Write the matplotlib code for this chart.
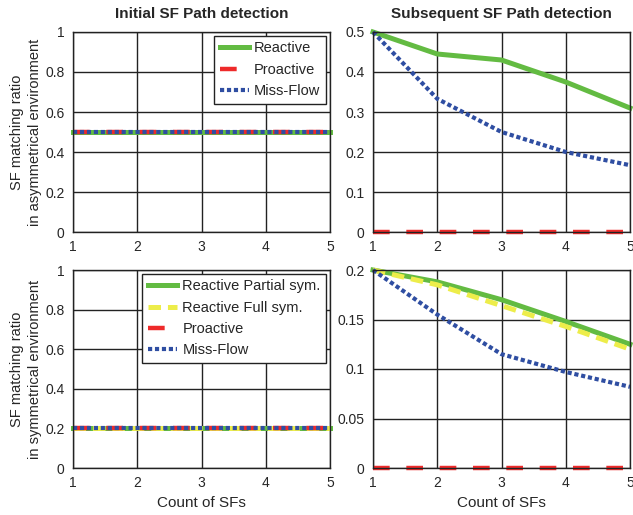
import matplotlib
matplotlib.use("Agg")
import matplotlib.pyplot as plt

plt.rcParams['font.family'] = ['Liberation Sans', 'DejaVu Sans']
plt.rcParams['lines.scale_dashes'] = False

# Count of service functions on the path
sf_count = [1, 2, 3, 4, 5]

# Asymmetrical environment
asym_initial_reactive = [0.5, 0.5, 0.5, 0.5, 0.5]
asym_initial_proactive = [0.5, 0.5, 0.5, 0.5, 0.5]
asym_initial_missflow = [0.5, 0.5, 0.5, 0.5, 0.5]
asym_subseq_reactive = [0.5, 0.445, 0.43, 0.375, 0.31]
asym_subseq_proactive = [0.0, 0.0, 0.0, 0.0, 0.0]
asym_subseq_missflow = [0.5, 0.333, 0.25, 0.2, 0.167]

# Symmetrical environment
sym_initial_partial = [0.2, 0.2, 0.2, 0.2, 0.2]
sym_initial_full = [0.2, 0.2, 0.2, 0.2, 0.2]
sym_initial_proactive = [0.2, 0.2, 0.2, 0.2, 0.2]
sym_initial_missflow = [0.2, 0.2, 0.2, 0.2, 0.2]
sym_subseq_partial = [0.2, 0.188, 0.17, 0.148, 0.125]
sym_subseq_full = [0.2, 0.185, 0.164, 0.143, 0.12]
sym_subseq_proactive = [0.0, 0.0, 0.0, 0.0, 0.0]
sym_subseq_missflow = [0.2, 0.155, 0.115, 0.097, 0.082]

titles = ["Initial SF Path detection", "Subsequent SF Path detection"]
ylabels = ["SF matching ratio\nin asymmetrical environment",
           "SF matching ratio\nin symmetrical environment"]
xlabel = "Count of SFs"

GREEN = '#63bb42'
YELLOW = '#eded4a'
RED = '#ee2a2a'
BLUE = '#2f4ea2'
TXT = '#262626'

W, H = 633, 515
fig = plt.figure(figsize=(W / 100, H / 100), dpi=100)


def box(l, t, r, b):
    return [l / W, 1 - b / H, (r - l) / W, (b - t) / H]


ax_tl = fig.add_axes(box(73, 32, 330, 232))
ax_tr = fig.add_axes(box(373, 32, 630, 232))
ax_bl = fig.add_axes(box(73, 270, 330, 468))
ax_br = fig.add_axes(box(373, 270, 630, 468))

style = dict(
    green=dict(color=GREEN, lw=3.6, ls='-', clip_on=False),
    yellow=dict(color=YELLOW, lw=3.6, ls=(0, (9, 5)), clip_on=False),
    red=dict(color=RED, lw=3.2, ls=(0, (12, 12)), clip_on=False),
    blue=dict(color=BLUE, lw=3.0, ls=(0, (3, 2)), clip_on=False),
)

# Top row
for ax, r, p, m in [(ax_tl, asym_initial_reactive, asym_initial_proactive, asym_initial_missflow),
                    (ax_tr, asym_subseq_reactive, asym_subseq_proactive, asym_subseq_missflow)]:
    ax.plot(sf_count, r, label="Reactive", **style['green'])
    ax.plot(sf_count, p, label="Proactive", **style['red'])
    ax.plot(sf_count, m, label="Miss-Flow", **style['blue'])

# Bottom row
for ax, a, f, p, m in [(ax_bl, sym_initial_partial, sym_initial_full, sym_initial_proactive, sym_initial_missflow),
                       (ax_br, sym_subseq_partial, sym_subseq_full, sym_subseq_proactive, sym_subseq_missflow)]:
    ax.plot(sf_count, a, label="Reactive Partial sym.", **style['green'])
    ax.plot(sf_count, f, label="Reactive Full sym.", **style['yellow'])
    ax.plot(sf_count, p, label="Proactive", **style['red'])
    ax.plot(sf_count, m, label="Miss-Flow", **style['blue'])

yticks = {
    ax_tl: ([0, 0.2, 0.4, 0.6, 0.8, 1.0], ["0", "0.2", "0.4", "0.6", "0.8", "1"]),
    ax_tr: ([0, 0.1, 0.2, 0.3, 0.4, 0.5], ["0", "0.1", "0.2", "0.3", "0.4", "0.5"]),
    ax_bl: ([0, 0.2, 0.4, 0.6, 0.8, 1.0], ["0", "0.2", "0.4", "0.6", "0.8", "1"]),
    ax_br: ([0, 0.05, 0.1, 0.15, 0.2], ["0", "0.05", "0.1", "0.15", "0.2"]),
}

for ax, (ticks, labels) in yticks.items():
    ax.set_xlim(1, 5)
    ax.set_ylim(ticks[0], ticks[-1])
    ax.set_xticks(sf_count)
    ax.set_xticklabels([str(v) for v in sf_count])
    ax.set_yticks(ticks)
    ax.set_yticklabels(labels)
    ax.grid(True, color='#222222', lw=1.0, alpha=1)
    ax.set_axisbelow(True)
    for s in ax.spines.values():
        s.set_color('#222222')
        s.set_linewidth(1.0)
    ax.tick_params(direction='in', length=0, labelsize=10, colors=TXT, pad=6)

ax_tl.set_title(titles[0], fontsize=11, fontweight='bold', color=TXT, pad=10)
ax_tr.set_title(titles[1], fontsize=11, fontweight='bold', color=TXT, pad=10)
for ax, lab in [(ax_tl, ylabels[0]), (ax_bl, ylabels[1])]:
    ax.set_ylabel(lab, fontsize=10.5, color=TXT, linespacing=1.3)
    ax.yaxis.set_label_coords(-0.122, 0.5)
ax_bl.set_xlabel(xlabel, fontsize=11, color=TXT, labelpad=4)
ax_br.set_xlabel(xlabel, fontsize=11, color=TXT, labelpad=4)

leg_kw = dict(fancybox=False, framealpha=1, edgecolor='#222222', fontsize=10.5,
              handlelength=2.0, handletextpad=0.35, borderpad=0.4, borderaxespad=0.25,
              labelcolor=TXT, labelspacing=0.5)
l1 = ax_tl.legend(loc='upper right', **leg_kw)
l2 = ax_bl.legend(loc='upper right', **leg_kw)
for leg in (l1, l2):
    leg.get_frame().set_linewidth(1.0)

fig.savefig("out.png", dpi=100)
